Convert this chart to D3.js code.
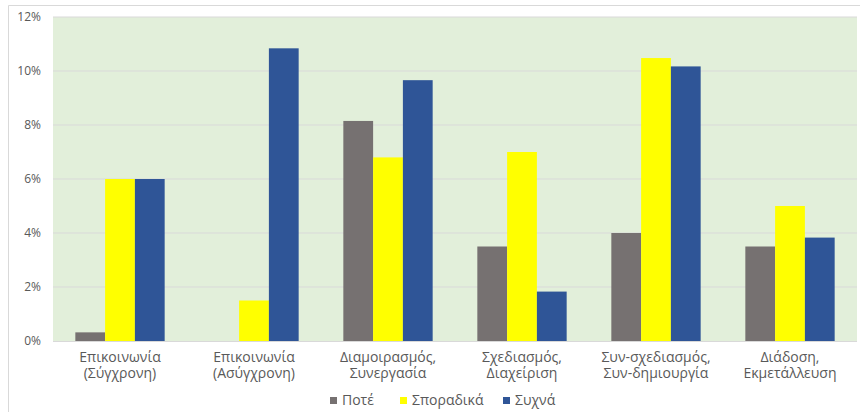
<!DOCTYPE html>
<html>
<head>
<meta charset="utf-8">
<script src="https://cdn.jsdelivr.net/npm/d3@7"></script>
<style>
  body { margin: 0; background: #fff; }
  svg { display: block; font-family: "Open Sans", "Noto Sans", sans-serif; }
  .tick text { fill: #595959; }
</style>
</head>
<body>
<div id="chart"></div>
<script>
var categories = [
  ["Επικοινωνία", "(Σύγχρονη)"],
  ["Επικοινωνία", "(Ασύγχρονη)"],
  ["Διαμοιρασμός,", "Συνεργασία"],
  ["Σχεδιασμός,", "Διαχείριση"],
  ["Συν-σχεδιασμός,", "Συν-δημιουργία"],
  ["Διάδοση,", "Εκμετάλλευση"]
];
var seriesNames = ["Ποτέ", "Σποραδικά", "Συχνά"];
var pote = [0.0032, 0, 0.0815, 0.035, 0.040, 0.035];
var sporadika = [0.060, 0.015, 0.068, 0.070, 0.1048, 0.050];
var syxna = [0.060, 0.1084, 0.0966, 0.0183, 0.1017, 0.0383];
var yTicks = [0, 0.02, 0.04, 0.06, 0.08, 0.10, 0.12];
var colors = ["#767171", "#ffff00", "#2f5597"];

var w = 860, h = 412;
var pLeft = 53, pRight = 857, pTop = 17, pBottom = 341;

var svg = d3.select("#chart").append("svg")
  .attr("width", w)
  .attr("height", h);

// outer frame
svg.append("path")
  .attr("d", "M8.5," + h + "V5.5H" + w)
  .attr("fill", "none")
  .attr("stroke", "#d9d9d9");

svg.append("rect")
  .attr("x", pLeft)
  .attr("y", pTop)
  .attr("width", pRight - pLeft)
  .attr("height", pBottom - pTop)
  .attr("fill", "#e2efda");

var x0 = d3.scaleBand()
  .domain(d3.range(categories.length))
  .range([pLeft, pRight]);
var x1 = d3.scaleBand()
  .domain(d3.range(seriesNames.length))
  .range([0, x0.bandwidth()])
  .paddingInner(0)
  .paddingOuter(0.75);
var y = d3.scaleLinear()
  .domain([0, 0.12])
  .range([pBottom, pTop]);

// gridlines
svg.append("g")
  .selectAll("line")
  .data(yTicks.slice(1))
  .enter().append("line")
  .attr("x1", pLeft)
  .attr("x2", pRight)
  .attr("y1", function(d) { return y(d); })
  .attr("y2", function(d) { return y(d); })
  .attr("stroke", "#d9d9d9")
  .attr("stroke-width", 1);

var yAxis = d3.axisLeft(y)
  .tickValues(yTicks)
  .tickFormat(d3.format(".0%"))
  .tickSize(0)
  .tickPadding(12);

svg.append("g")
  .attr("transform", "translate(" + pLeft + ",0)")
  .call(yAxis)
  .call(function(g) { g.select(".domain").remove(); })
  .selectAll("text")
    .attr("font-size", 12)
    .attr("font-family", "'Open Sans', sans-serif");

var series = [pote, sporadika, syxna];
series.forEach(function(vals, s) {
  svg.append("g")
    .selectAll("rect")
    .data(vals)
    .enter().append("rect")
    .attr("x", function(d, i) { return x0(i) + x1(s); })
    .attr("y", function(d) { return y(d); })
    .attr("width", x1.bandwidth())
    .attr("height", function(d) { return pBottom - y(d); })
    .attr("fill", colors[s]);
});

// baseline
svg.append("line")
  .attr("x1", pLeft).attr("x2", pRight)
  .attr("y1", pBottom + 0.5).attr("y2", pBottom + 0.5)
  .attr("stroke", "#d9d9d9");

// category labels, two lines each
var labelX = function(d, i) { return x0(i) + x0.bandwidth() / 2; };
[0, 1].forEach(function(line) {
  svg.append("g")
    .selectAll("text")
    .data(categories)
    .enter().append("text")
    .attr("x", labelX)
    .attr("y", 362 + line * 16)
    .attr("text-anchor", "middle")
    .attr("font-size", 14)
    .attr("fill", "#595959")
    .text(function(d) { return d[line]; });
});

// legend
var legendX = [330, 400, 503];
var legend = svg.append("g")
  .selectAll("g")
  .data(seriesNames)
  .enter().append("g")
  .attr("transform", function(d, i) { return "translate(" + legendX[i] + ",397)"; });
legend.append("rect")
  .attr("width", 7)
  .attr("height", 7)
  .attr("fill", function(d, i) { return colors[i]; });
legend.append("text")
  .attr("x", 12)
  .attr("y", 8)
  .attr("font-size", 14)
  .attr("fill", "#595959")
  .text(function(d) { return d; });
</script>
</body>
</html>
